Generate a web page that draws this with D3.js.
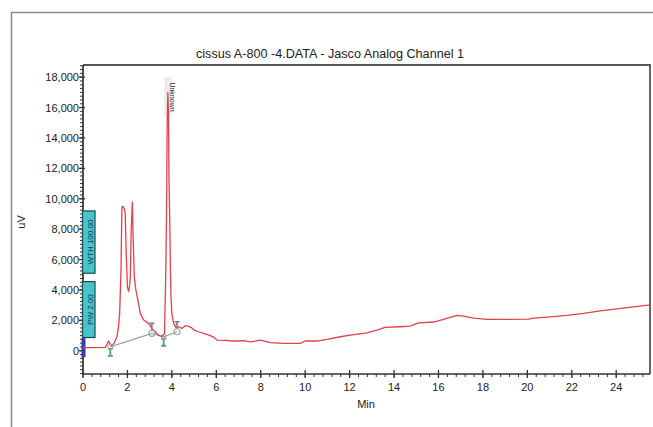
<!DOCTYPE html>
<html>
<head>
<meta charset="utf-8">
<script src="https://cdn.jsdelivr.net/npm/d3@7/dist/d3.min.js"></script>
<style>
  body { margin: 0; background: #fff; }
  svg { display: block; font-family: "Liberation Sans", Arial, sans-serif; }
</style>
</head>
<body>
<svg id="chart" width="653" height="427"></svg>
<script>
// ---- data ----
const title = "cissus A-800 -4.DATA - Jasco Analog Channel 1";
const xLabel = "Min";
const yLabel = "uV";
const xTicks = [0, 2, 4, 6, 8, 10, 12, 14, 16, 18, 20, 22, 24];
const yTicks = [0, 2000, 4000, 6000, 8000, 10000, 12000, 14000, 16000, 18000];
const timeMin = [
  0, 0.5, 1.0, 1.08, 1.15, 1.22, 1.3, 1.4, 1.53, 1.6, 1.65, 1.71, 1.75, 1.8, 1.87, 1.9, 1.95, 2.0, 2.05, 2.1,
  2.13, 2.17, 2.22, 2.26, 2.31, 2.38, 2.5, 2.58, 2.73, 2.95, 3.1, 3.25, 3.4, 3.55, 3.67, 3.72, 3.76, 3.79, 3.82, 3.85,
  3.87, 3.9, 3.93, 3.96, 4.0, 4.08, 4.2, 4.3, 4.45, 4.6, 4.75, 4.9, 5.0, 5.2, 5.43, 5.73, 5.9, 6.03, 6.4, 6.78,
  7.0, 7.23, 7.53, 7.75, 7.98, 8.2, 8.43, 9.03, 9.4, 9.78, 10.0, 10.53, 10.98, 11.58, 12.03, 12.78, 13.23, 13.6, 14.28, 14.73,
  15.1, 15.78, 16.23, 16.83, 17.13, 17.58, 18.18, 19.08, 20.05, 20.28, 21.03, 21.78, 22.53, 23.28, 24.03, 24.78, 25.53
];
const signalUV = [
  200, 200, 220, 420, 640, 450, 330, 500, 920, 1600, 2460, 5300, 9460, 9500, 9300, 9030, 6180, 4200, 3900, 4300,
  4860, 7930, 9790, 7270, 4860, 3990, 3110, 2460, 2020, 1800, 1470, 1250, 1030, 920, 1140, 4640, 9000, 15000, 17000, 15500,
  11250, 9030, 5740, 3550, 2460, 1800, 1470, 1580, 1470, 1650, 1600, 1500, 1360, 1250, 1140, 1000, 880, 700, 680, 640,
  640, 660, 590, 640, 700, 620, 530, 480, 480, 480, 640, 640, 750, 920, 1030, 1180, 1360, 1540, 1580, 1620,
  1840, 1890, 2060, 2330, 2280, 2150, 2060, 2060, 2080, 2150, 2230, 2330, 2460, 2630, 2760, 2890, 3020
];
const baseTime = [1.23, 3.1, 3.63, 4.23];
const baseUV = [260, 1140, 920, 1250];
const startMarks = [1.23, 3.63];       // green peak-start glyphs
const endMarks = [3.1, 4.23];          // gray peak-end glyphs
const eventLabels = ["WTH 100.00", "PW 2.00"];
const eventTop = [9200, 4550];
const eventBottom = [5100, 870];
const peakLabel = "Unknown";
const peakTime = 3.82;

// ---- layout ----
const svg = d3.select("#chart");
const L = 83, R = 650, T = 65, B = 374;
const x = d3.scaleLinear().domain([0, 25.52]).range([L, R]);
const y = d3.scaleLinear().domain([-1530, 18800]).range([B, T]);
const FS = 11;

// outer frame
svg.append("path").attr("d", `M11.5,427 V12.5 H653`)
  .attr("fill", "none").attr("stroke", "#8a8a8a").attr("stroke-width", 1.5);

// title
svg.append("text").attr("x", 330).attr("y", 58).attr("text-anchor", "middle")
  .attr("font-size", 12).attr("fill", "#222")
  .attr("textLength", 268).attr("lengthAdjust", "spacingAndGlyphs").text(title);

// plot border (top/right)
svg.append("path").attr("d", `M${L},${T} H${R} V${B}`)
  .attr("fill", "none").attr("stroke", "#555").attr("stroke-width", 1.8);

// x axis
const xMinor = d3.range(0, 25.5, 0.4);
const gx = svg.append("g");
gx.selectAll("line.minor").data(xMinor).join("line")
  .attr("x1", d => x(d)).attr("x2", d => x(d)).attr("y1", B).attr("y2", B + 3)
  .attr("stroke", "#333").attr("stroke-width", 1);
gx.selectAll("line.major").data(xTicks).join("line")
  .attr("x1", d => x(d)).attr("x2", d => x(d)).attr("y1", B - 4).attr("y2", B + 4)
  .attr("stroke", "#333").attr("stroke-width", 1.3);
gx.selectAll("text").data(xTicks).join("text")
  .attr("x", d => x(d)).attr("y", B + 17).attr("text-anchor", "middle")
  .attr("font-size", FS).attr("fill", "#222").text(d => d);
svg.append("line").attr("x1", L).attr("x2", R).attr("y1", B).attr("y2", B)
  .attr("stroke", "#333").attr("stroke-width", 1.6);
svg.append("text").attr("x", 366).attr("y", 408).attr("text-anchor", "middle")
  .attr("font-size", FS).attr("fill", "#222").text(xLabel);

// y axis
const yMinor = d3.range(-1500, 18800, 250);
const gy = svg.append("g");
gy.selectAll("line.minor").data(yMinor).join("line")
  .attr("x1", L - 3).attr("x2", L).attr("y1", d => y(d)).attr("y2", d => y(d))
  .attr("stroke", "#333").attr("stroke-width", 1);
gy.selectAll("line.major").data(yTicks).join("line")
  .attr("x1", L - 4).attr("x2", L + 2).attr("y1", d => y(d)).attr("y2", d => y(d))
  .attr("stroke", "#333").attr("stroke-width", 1.3);
gy.selectAll("text").data(yTicks).join("text")
  .attr("x", L - 4).attr("y", d => y(d) + 4).attr("text-anchor", "end")
  .attr("font-size", FS).attr("fill", "#222").text(d => d3.format(",")(d));
svg.append("line").attr("x1", L).attr("x2", L).attr("y1", T).attr("y2", B + 1)
  .attr("stroke", "#333").attr("stroke-width", 1.7);
svg.append("text").attr("transform", `translate(25,222) rotate(-90)`).attr("text-anchor", "middle")
  .attr("font-size", FS).attr("fill", "#222").text(yLabel);

// event boxes
eventLabels.forEach((lab, i) => {
  const y0 = y(eventTop[i]), y1 = y(eventBottom[i]);
  svg.append("rect").attr("x", L - 0.5).attr("y", y0).attr("width", 12.5).attr("height", y1 - y0)
    .attr("fill", "#47c4cc").attr("stroke", "#1d4a50").attr("stroke-width", 1.2);
  svg.append("text").attr("transform", `translate(${L + 9.5},${(y0 + y1) / 2}) rotate(-90)`)
    .attr("text-anchor", "middle").attr("font-size", 8).attr("fill", "#0f3a40").text(lab);
});
// blue start marker
svg.append("rect").attr("x", L - 1.5).attr("y", y(820)).attr("width", 4).attr("height", y(-420) - y(820))
  .attr("fill", "#3b3ba8");

// peak label background (behind the trace)
const plx = x(peakTime);
svg.append("rect").attr("x", plx - 3.5).attr("y", 77).attr("width", 7).attr("height", 40)
  .attr("fill", "#ececec");

// baseline
svg.append("path").datum(baseTime.map((t, i) => [t, baseUV[i]]))
  .attr("d", d3.line().x(d => x(d[0])).y(d => y(d[1])))
  .attr("fill", "none").attr("stroke", "#93a5a3").attr("stroke-width", 1.3);

// signal
svg.append("path").datum(timeMin.map((t, i) => [t, signalUV[i]]))
  .attr("d", d3.line().x(d => x(d[0])).y(d => y(d[1])))
  .attr("fill", "none").attr("stroke", "#e4404c").attr("stroke-width", 1.3).attr("stroke-linejoin", "round");

// markers
const bIdx = t => baseTime.indexOf(t);
startMarks.forEach(t => {
  const px = x(t), py = y(baseUV[bIdx(t)]);
  svg.append("path").attr("d", `M${px - 2.5},${py + 2} H${px + 2.5} M${px},${py + 2} V${py + 9} M${px - 2.5},${py + 9} H${px + 2.5}`)
    .attr("stroke", "#5f9c66").attr("stroke-width", 1.8).attr("fill", "none");
  svg.append("circle").attr("cx", px).attr("cy", py).attr("r", 2.5)
    .attr("fill", "none").attr("stroke", "#9aa8a6").attr("stroke-width", 1);
});
endMarks.forEach(t => {
  const px = x(t), py = y(baseUV[bIdx(t)]);
  svg.append("path").attr("d", `M${px - 2.5},${py - 10} H${px + 2.5} M${px},${py - 10} V${py - 3}`)
    .attr("stroke", "#8a7a7a").attr("stroke-width", 1.6).attr("fill", "none");
  svg.append("circle").attr("cx", px).attr("cy", py).attr("r", 3)
    .attr("fill", "none").attr("stroke", "#9aa8a6").attr("stroke-width", 1.2);
});

// peak label text
svg.append("text").attr("transform", `translate(${plx + 2.5},${97}) rotate(90)`)
  .attr("text-anchor", "middle").attr("font-size", 7).attr("fill", "#222").text(peakLabel);
</script>
</body>
</html>
